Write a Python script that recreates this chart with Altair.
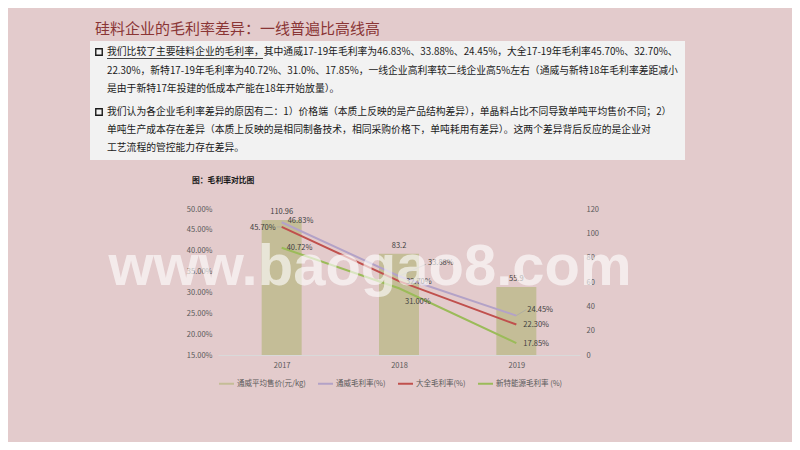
import altair as alt
import pandas as pd

# ---------------- data ----------------
years = [2017, 2018, 2019]
price = [110.96, 83.2, 55.9]          # 通威平均售价(元/kg)
tongwei = [46.83, 33.88, 24.45]       # 通威毛利率(%)
daquan = [45.70, 32.70, 22.30]        # 大全毛利率(%)
xinte = [40.72, 31.00, 17.85]         # 新特能源毛利率 (%)
series_names = ["通威平均售价(元/kg)", "通威毛利率(%)", "大全毛利率(%)", "新特能源毛利率 (%)"]
series_colors = ["#C4BD97", "#B3A2C7", "#C0504D", "#9BBB59"]
pct_ticks = [15, 20, 25, 30, 35, 40, 45, 50]
price_ticks = [0, 20, 40, 60, 80, 100, 120]

title_text = "硅料企业的毛利率差异：一线普遍比高线高"
para1 = [
    "我们比较了主要硅料企业的毛利率，其中通威17-19年毛利率为46.83%、33.88%、24.45%，大全17-19年毛利率45.70%、32.70%、",
    "22.30%，新特17-19年毛利率为40.72%、31.0%、17.85%，一线企业高利率较二线企业高5%左右（通威与新特18年毛利率差距减小",
    "是由于新特17年投建的低成本产能在18年开始放量）。",
]
para2 = [
    "我们认为各企业毛利率差异的原因有二：1）价格端（本质上反映的是产品结构差异），单晶料占比不同导致单吨平均售价不同；2）",
    "单吨生产成本存在差异（本质上反映的是相同制备技术，相同采购价格下，单吨耗用有差异）。这两个差异背后反应的是企业对",
    "工艺流程的管控能力存在差异。",
]
chart_title = "图：毛利率对比图"
watermark = "www.baogao8.com"

# ---------------- tables ----------------
df_price = pd.DataFrame({
    "year": years,
    "price": price,
    "price_label": [str(v) for v in price],
    "series": [series_names[0]] * 3,
})
df_lines = pd.DataFrame({
    "year": years * 3,
    "value": tongwei + daquan + xinte,
    "series": [series_names[1]] * 3 + [series_names[2]] * 3 + [series_names[3]] * 3,
})

CJK = "Noto Sans CJK SC"
X0, Y0 = 218, 209  # page position of plot origin
AX_COLOR = "#595959"

color_scale = alt.Scale(domain=series_names, range=series_colors)
legend_def = alt.Legend(orient="none", legendX=0, legendY=166,
                        direction="horizontal", title=None,
                        labelFontSize=7.5, labelColor=AX_COLOR, labelFont=CJK,
                        symbolType="stroke", symbolSize=225, symbolStrokeWidth=2,
                        columnPadding=8, labelOffset=2, labelLimit=0)
x_enc = alt.X(
    "year:Q",
    scale=alt.Scale(domain=[2016.5, 2019.5], nice=False, zero=False),
    axis=alt.Axis(values=years, format="d", ticks=False, grid=False,
                  domainColor="#D9D9D9", domainWidth=1, labelFontSize=7.5,
                  labelColor=AX_COLOR, labelPadding=6, title=None, labelFont=CJK),
)

# ---------------- bars (right axis) ----------------
y_price = alt.Y(
    "price:Q",
    scale=alt.Scale(domain=[0, 120], nice=False),
    axis=alt.Axis(orient="right", values=price_ticks, ticks=False, domain=False, grid=False,
                  labelFontSize=7.5, labelColor=AX_COLOR, labelPadding=6, title=None, labelFont=CJK),
)
bars = alt.Chart(df_price).mark_bar(size=40).encode(
    x=x_enc, y=y_price,
    color=alt.Color("series:N", scale=color_scale, legend=legend_def),
)
bar_labels = alt.Chart(df_price).mark_text(
    dy=-8, fontSize=7.5, color="#404040", font=CJK, baseline="middle"
).encode(x=x_enc, y=y_price, text="price_label:N")
right = alt.layer(bars, bar_labels)

# ---------------- lines (left axis) ----------------
y_pct = alt.Y(
    "value:Q",
    scale=alt.Scale(domain=[15, 50], nice=False, zero=False),
    axis=alt.Axis(values=pct_ticks, labelExpr="format(datum.value, '.2f') + '%'",
                  ticks=False, domain=False, grid=False, labelFontSize=7.5,
                  labelColor=AX_COLOR, labelPadding=6, title=None, labelFont=CJK),
)
lines = alt.Chart(df_lines).mark_line(strokeWidth=2).encode(
    x=x_enc, y=y_pct,
    color=alt.Color("series:N", scale=color_scale, legend=legend_def),
    order=alt.Order("series:N"),
)

label_offsets = [
    (series_names[1], 2017, 6, -1, "left"),
    (series_names[2], 2017, -6, 1, "right"),
    (series_names[3], 2017, 5, 0, "left"),
    (series_names[1], 2018, 29, -13, "left"),
    (series_names[2], 2018, 7, 1, "left"),
    (series_names[3], 2018, 6, 14, "left"),
    (series_names[1], 2019, 11, -6, "left"),
    (series_names[2], 2019, 7, 0, "left"),
    (series_names[3], 2019, 7, 1, "left"),
]
line_labels = []
for s, yr, dx, dy, al in label_offsets:
    line_labels.append(
        alt.Chart(df_lines)
        .transform_filter((alt.datum.series == s) & (alt.datum.year == yr))
        .transform_calculate(lbl="format(datum.value, '.2f') + '%'")
        .mark_text(dx=dx, dy=dy, align=al, baseline="middle", fontSize=7.5,
                   color="#404040", font=CJK)
        .encode(x=x_enc, y=y_pct, text="lbl:N")
    )

leader_defs = [
    (series_names[2], 2017, -5, 0),
    (series_names[1], 2018, 27, -12),
    (series_names[1], 2019, 10, -6),
]
leaders = []
for s, yr, ox, oy in leader_defs:
    leaders.append(
        alt.Chart(df_lines)
        .transform_filter((alt.datum.series == s) & (alt.datum.year == yr))
        .mark_rule(x2Offset=ox, y2Offset=oy, color="#A6A6A6", strokeWidth=0.7)
        .encode(x=x_enc, y=y_pct, x2="year:Q", y2="value:Q")
    )

left = alt.layer(*leaders, lines, *line_labels)

# ---------------- decorations / text ----------------
dummy = pd.DataFrame({"t": [""]})


def place(text, px, py, size=10, color="#1a1a1a", weight="normal", align="left",
          font=CJK, baseline="middle", opacity=1.0):
    return alt.Chart(pd.DataFrame({"t": [text]})).mark_text(
        align=align, baseline=baseline, fontSize=size, font=font, color=color,
        fontWeight=weight, opacity=opacity
    ).encode(text="t:N", x=alt.value(px - X0), y=alt.value(py - Y0))


box = alt.Chart(dummy).mark_rect(color="#F2F2F2").encode(
    x=alt.value(90 - X0), x2=alt.value(685 - X0),
    y=alt.value(41 - Y0), y2=alt.value(160 - Y0),
)
bullets = [
    alt.Chart(dummy).mark_point(shape="square", filled=False, size=42, strokeWidth=1.4,
                                color="#1a1a1a", opacity=1).encode(
        x=alt.value(99 - X0), y=alt.value(by - Y0))
    for by in (52, 112)
]
underline = alt.Chart(dummy).mark_rule(color="#1a1a1a", strokeWidth=0.8).encode(
    x=alt.value(107 - X0), x2=alt.value(263 - X0), y=alt.value(58.5 - Y0)
)

texts = [place(title_text, 95, 29, size=15, color="#8A3535")]
for line, py in zip(para1, (52, 71, 89)):
    texts.append(place(line, 107, py, size=9.8))
for line, py in zip(para2, (112, 130, 148)):
    texts.append(place(line, 107, py, size=9.8))
texts.append(place(chart_title, 192, 181, size=7.8, weight="bold"))

wm = place(watermark, 370, 285, size=58, color="#FFFFFF", weight="bold", align="center",
           font="Liberation Sans", baseline="alphabetic", opacity=0.62)

chart = alt.layer(
    box, *bullets, underline, *texts, right, left, wm
).resolve_scale(y="independent").properties(
    width=362, height=146,
    padding={"left": 210, "top": 201, "right": 212, "bottom": 87},
    autosize="none",
).configure(background="#E3CBCC").configure_view(stroke=None)

chart.save("out.html", embed_options={"renderer": "svg", "actions": False})
